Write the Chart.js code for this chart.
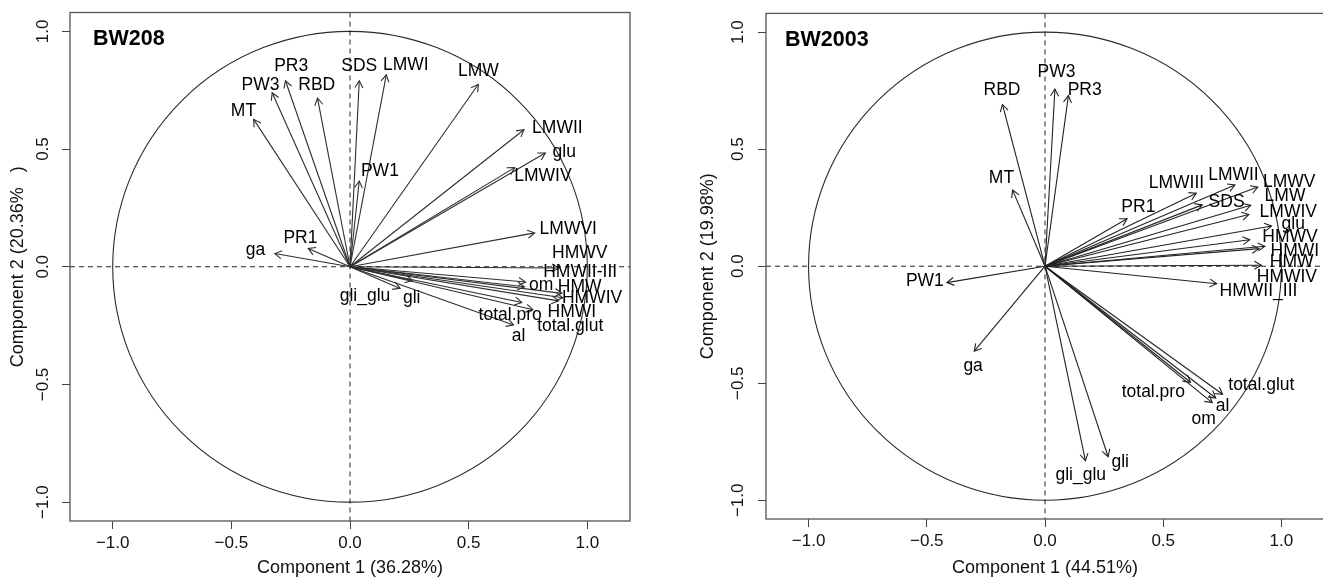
<!DOCTYPE html>
<html><head><meta charset="utf-8">
<script src="https://cdn.jsdelivr.net/npm/chart.js@4.4.1/dist/chart.umd.min.js"></script>
<style>
html,body{margin:0;padding:0;background:#fff;overflow:hidden;width:1323px;height:580px;}
#wrap{position:relative;width:1323px;height:580px;overflow:hidden;background:#fff;}
.c{position:absolute;top:0;height:580px;}
</style></head><body>
<div id="wrap">
<div class="c" style="left:0;width:660px;"><canvas id="c1"></canvas></div>
<div class="c" style="left:660px;width:680px;"><canvas id="c2"></canvas></div>
</div>
<script>
// ---- shared axis ticks ----
const tickValues = [-1, -0.5, 0, 0.5, 1];
const tickLabels = ['\u22121.0', '\u22120.5', '0.0', '0.5', '1.0'];

// ---- BW208 (left) ----
const bw208Title = 'BW208';
const bw208XTitle = 'Component 1 (36.28%)';
const bw208YTitle = 'Component 2 (20.36%   )';
const bw208Names = ['MT','PW3','PR3','RBD','SDS','LMWI','LMW','LMWII','glu','LMWIV','PW1','LMWVI','PR1','ga',
  'HMWV','HMWII-III','om','HMW','HMWIV','HMWI','total.pro','total.glut','al','gli','gli_glu'];
const bw208X = [-0.406,-0.328,-0.272,-0.137,0.039,0.153,0.541,0.733,0.823,0.694,0.039,0.778,-0.176,-0.317,
  0.880,0.735,0.740,0.893,0.897,0.879,0.724,0.771,0.689,0.211,0.262];
const bw208Y = [0.626,0.739,0.790,0.716,0.790,0.815,0.775,0.582,0.483,0.421,0.364,0.144,0.078,0.056,
  -0.005,-0.085,-0.065,-0.113,-0.132,-0.145,-0.152,-0.183,-0.247,-0.092,-0.058];
const bw208LabelX = [-0.449,-0.377,-0.248,-0.140,0.039,0.235,0.541,0.874,0.903,0.813,0.126,0.920,-0.209,-0.398,
  0.968,0.970,0.806,0.968,1.020,0.935,0.675,0.928,0.710,0.260,0.063];
const bw208LabelY = [0.660,0.773,0.850,0.773,0.850,0.857,0.829,0.589,0.487,0.386,0.405,0.158,0.123,0.071,
  0.059,-0.025,-0.078,-0.085,-0.134,-0.195,-0.204,-0.251,-0.293,-0.134,-0.124];

// ---- BW2003 (right) ----
const bw2003Title = 'BW2003';
const bw2003XTitle = 'Component 1 (44.51%)';
const bw2003YTitle = 'Component 2 (19.98%)';
const bw2003Names = ['RBD','PW3','PR3','MT','PR1','LMWIII','LMWII','SDS','LMWV','LMW','LMWIV','glu','HMWV','HMWI',
  'HMW','HMWIV','HMWII_III','PW1','ga','total.pro','total.glut','al','om','gli','gli_glu'];
const bw2003X = [-0.180,0.042,0.099,-0.137,0.347,0.640,0.803,0.665,0.900,0.870,0.862,0.958,0.866,0.930,
  0.915,0.905,0.726,-0.415,-0.299,0.615,0.751,0.722,0.707,0.267,0.171];
const bw2003Y = [0.691,0.757,0.729,0.325,0.203,0.312,0.347,0.262,0.338,0.260,0.221,0.172,0.113,0.085,
  0.004,0.075,-0.075,-0.070,-0.363,-0.496,-0.547,-0.563,-0.583,-0.814,-0.831];
const bw2003LabelX = [-0.182,0.049,0.168,-0.184,0.395,0.556,0.797,0.768,1.033,1.015,1.029,1.050,1.036,1.057,
  1.043,1.023,0.903,-0.508,-0.304,0.458,0.915,0.751,0.671,0.318,0.151];
const bw2003LabelY = [0.752,0.829,0.754,0.374,0.254,0.356,0.389,0.272,0.358,0.298,0.230,0.180,0.123,0.064,
  0.017,-0.045,-0.105,-0.066,-0.427,-0.538,-0.510,-0.598,-0.652,-0.838,-0.894];

const FONT = "'Liberation Sans', Arial, Helvetica, sans-serif";
Chart.defaults.font.family = FONT;
Chart.defaults.color = '#111';

function buildChart(canvasId, p) {
  const datasets = p.x.map((vx, i) => ({
    label: p.names[i],
    data: [{x: 0, y: 0}, {x: vx, y: p.y[i]}],
    showLine: true,
    borderColor: p.arrowColor,
    borderWidth: 1.1,
    pointRadius: 0, pointHoverRadius: 0, pointHitRadius: 0,
    fill: false
  }));

  const decor = {
    id: 'decor_' + canvasId,
    beforeDatasetsDraw(chart) {
      const {ctx, chartArea: a, scales: {x, y}} = chart;
      ctx.save();
      ctx.beginPath(); ctx.rect(a.left, a.top, a.right - a.left, a.bottom - a.top); ctx.clip();
      const cx = x.getPixelForValue(0), cy = y.getPixelForValue(0);
      const rx = x.getPixelForValue(1) - cx, ry = cy - y.getPixelForValue(1);
      ctx.strokeStyle = '#2a2a2a'; ctx.lineWidth = 1.1;
      ctx.beginPath(); ctx.ellipse(cx, cy, rx, ry, 0, 0, Math.PI * 2); ctx.stroke();
      ctx.setLineDash([5, 4]);
      ctx.strokeStyle = '#222'; ctx.lineWidth = 1;
      ctx.beginPath();
      ctx.moveTo(a.left, cy); ctx.lineTo(a.right, cy);
      ctx.moveTo(cx, a.top); ctx.lineTo(cx, a.bottom);
      ctx.stroke();
      ctx.restore();
    },
    afterDatasetsDraw(chart) {
      const ctx = chart.ctx;
      ctx.save();
      ctx.strokeStyle = p.arrowColor; ctx.lineWidth = 1.1;
      chart.data.datasets.forEach((ds, i) => {
        const meta = chart.getDatasetMeta(i);
        const p0 = meta.data[0], p1 = meta.data[1];
        const ang = Math.atan2(p1.y - p0.y, p1.x - p0.x);
        const L = 8, h = Math.PI / 6;
        ctx.beginPath();
        ctx.moveTo(p1.x - L * Math.cos(ang - h), p1.y - L * Math.sin(ang - h));
        ctx.lineTo(p1.x, p1.y);
        ctx.lineTo(p1.x - L * Math.cos(ang + h), p1.y - L * Math.sin(ang + h));
        ctx.stroke();
      });
      ctx.restore();
    },
    afterDraw(chart) {
      const {ctx, chartArea: a, scales: {x, y}} = chart;
      ctx.save();
      ctx.fillStyle = '#000';
      ctx.font = '17.5px ' + FONT;
      ctx.textAlign = 'center'; ctx.textBaseline = 'middle';
      p.names.forEach((n, i) => {
        ctx.fillText(n, x.getPixelForValue(p.lx[i]), y.getPixelForValue(p.ly[i]));
      });
      ctx.font = 'bold 21.5px ' + FONT;
      ctx.textAlign = 'left'; ctx.textBaseline = 'middle';
      ctx.fillStyle = '#000';
      ctx.fillText(p.title, a.left + p.titleDx, a.top + 27);
      ctx.strokeStyle = '#555'; ctx.lineWidth = 1.3;
      ctx.strokeRect(a.left, a.top, a.right - a.left, a.bottom - a.top);
      ctx.restore();
    }
  };

  const gridOpts = {display: true, drawOnChartArea: false, drawTicks: true, tickLength: 8, color: '#444', lineWidth: 1};
  new Chart(document.getElementById(canvasId), {
    type: 'scatter',
    data: {datasets},
    options: {
      responsive: true, maintainAspectRatio: false, animation: false,
      events: [],
      layout: {padding: {left: 0, top: p.padTop, right: p.padRight, bottom: 0}},
      plugins: {legend: {display: false}, tooltip: {enabled: false}},
      scales: {
        x: {
          type: 'linear', min: -1.18, max: 1.18,
          afterBuildTicks: s => { s.ticks = tickValues.map(v => ({value: v})); },
          afterFit: s => { s.height = p.xAxisHeight; },
          ticks: {callback: (v, i) => tickLabels[i], font: {size: 17}, color: '#111', padding: 4, maxRotation: 0, autoSkip: false},
          grid: gridOpts,
          border: {display: false},
          title: {display: true, text: p.xTitle, font: {size: 18}, color: '#111', padding: {top: 0, bottom: 1.2}}
        },
        y: {
          type: 'linear', min: -1.08, max: 1.08,
          afterBuildTicks: s => { s.ticks = tickValues.map(v => ({value: v})); },
          afterFit: s => { s.width = p.yAxisWidth; },
          ticks: {callback: (v, i) => tickLabels[i], font: {size: 17}, color: '#111', padding: p.yTickPad,
                  minRotation: 90, maxRotation: 90, crossAlign: 'center', autoSkip: false},
          grid: gridOpts,
          border: {display: false},
          title: {display: true, text: p.yTitle, font: {size: 18}, color: '#111', padding: {top: p.yTitlePad, bottom: 0}}
        }
      }
    },
    plugins: [decor]
  });
}

buildChart('c1', {
  names: bw208Names, x: bw208X, y: bw208Y, lx: bw208LabelX, ly: bw208LabelY,
  title: bw208Title, xTitle: bw208XTitle, yTitle: bw208YTitle, arrowColor: '#2e2e2e',
  padTop: 10, padRight: 30, xAxisHeight: 59, yAxisWidth: 70, yTickPad: 2.3, yTitlePad: 7.7, titleDx: 23
});
buildChart('c2', {
  names: bw2003Names, x: bw2003X, y: bw2003Y, lx: bw2003LabelX, ly: bw2003LabelY,
  title: bw2003Title, xTitle: bw2003XTitle, yTitle: bw2003YTitle, arrowColor: '#222',
  padTop: 9, padRight: 16, xAxisHeight: 61, yAxisWidth: 106, yTickPad: 3.2, yTitlePad: 37, titleDx: 19
});
</script>
</body></html>
